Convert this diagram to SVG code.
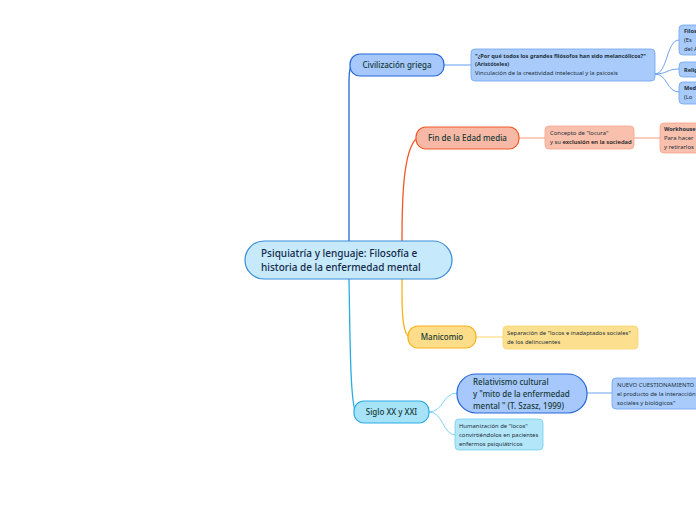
<svg xmlns="http://www.w3.org/2000/svg" width="696" height="520" viewBox="0 0 696 520">
<style>
text{font-family:"Noto Sans","Open Sans","DejaVu Sans",sans-serif;fill:#1c2f3a}
.c{fill:none;stroke-linecap:round}
.main{font-size:10px;font-weight:500;fill:#142a4a}
.lbl{font-size:8px;font-weight:500;fill:#163a35}
.sm{font-size:5.9px}
.b{font-weight:700;font-size:5.6px}
</style>
<rect width="696" height="520" fill="#ffffff"/>
<g id="connectors">
<path class="c" d="M349,241 V80 Q349,66 353,65" stroke="#2566d8" stroke-width="1.3"/>
<path class="c" d="M402,241 C402,200 403,150 417,138" stroke="#f05a28" stroke-width="1.3"/>
<path class="c" d="M402,279 C402,300 401,335 410,337" stroke="#f9b21b" stroke-width="1.3"/>
<path class="c" d="M349,279 C350,330 350,405 356,412" stroke="#2aace3" stroke-width="1.3"/>
<path class="c" d="M444,65 H471" stroke="#5e9cf0" stroke-width="1"/>
<path class="c" d="M655,74 C668,74 666,40 679,40 M655,74 C668,74 666,69 679,69 M655,74 C668,74 666,92 679,92" stroke="#6fa3ef" stroke-width="1"/>
<path class="c" d="M519,138 H545" stroke="#f59a7a" stroke-width="1"/>
<path class="c" d="M634,138 H660" stroke="#f59a7a" stroke-width="1"/>
<path class="c" d="M476,337 H503" stroke="#fbd56b" stroke-width="1"/>
<path class="c" d="M429,412 C444,412 442,393 457,393 M429,412 C444,412 442,435 456,435" stroke="#7fd3f2" stroke-width="1"/>
<path class="c" d="M587,393 H612" stroke="#6fa3ef" stroke-width="1"/>
</g>
<g id="central">
<rect x="245" y="241" width="207" height="38" rx="19" fill="#c6e9fb" stroke="#3a8cd8" stroke-width="1.2"/>
<text class="main" x="261" y="257">Psiquiatría y lenguaje: Filosofía e</text>
<text class="main" x="261" y="271">historia de la enfermedad mental</text>
</g>
<g id="civilizacion">
<rect x="350" y="54" width="94" height="22" rx="10" fill="#a6c8fc" stroke="#2566d8" stroke-width="1.2"/>
<text class="lbl" x="397" y="68" text-anchor="middle">Civilización griega</text>
</g>
<g id="porque">
<rect x="471" y="49" width="184" height="32" rx="4" fill="#a8cbfb" stroke="#6fa3ef" stroke-width="0.8"/>
<text class="sm b" x="475" y="58">"¿Por qué todos los grandes filósofos han sido melancólicos?"</text>
<text class="sm b" x="475" y="65.5">(Aristóteles)</text>
<text class="sm" x="475" y="75" fill="#2a3e5a">Vinculación de la creatividad intelectual y la psicosis</text>
</g>
<g id="filosofia">
<rect x="679" y="25" width="40" height="30" rx="4" fill="#a8cbfb" stroke="#6fa3ef" stroke-width="0.8"/>
<text class="sm b" x="684" y="33">Filos</text>
<text class="sm" x="684" y="42">(Es</text>
<text class="sm" x="684" y="51">del A</text>
</g>
<g id="religion">
<rect x="679" y="62" width="40" height="15" rx="4" fill="#a8cbfb" stroke="#6fa3ef" stroke-width="0.8"/>
<text class="sm b" x="684" y="71.5">Relig</text>
</g>
<g id="medicina">
<rect x="679" y="82" width="40" height="22" rx="4" fill="#a8cbfb" stroke="#6fa3ef" stroke-width="0.8"/>
<text class="sm b" x="684" y="90">Med</text>
<text class="sm" x="684" y="99">(Lo</text>
</g>
<g id="fin">
<rect x="416" y="127" width="103" height="22" rx="10" fill="#f7b9a5" stroke="#f05a28" stroke-width="1.2"/>
<text class="lbl" x="467.5" y="141" text-anchor="middle">Fin de la Edad media</text>
</g>
<g id="concepto">
<rect x="545" y="126" width="89" height="23" rx="4" fill="#f9c0ad" stroke="#f6a58a" stroke-width="0.8"/>
<text class="sm" x="550" y="134.5" fill="#5a3326">Concepto de "locura"</text>
<text class="sm" x="550" y="144" fill="#5a3326">y su <tspan fill="#1a1a1a" font-weight="600">exclusión en la sociedad</tspan></text>
</g>
<g id="workhouses">
<rect x="660" y="123" width="60" height="30" rx="4" fill="#f9c0ad" stroke="#f6a58a" stroke-width="0.8"/>
<text class="sm b" x="664" y="131">Workhouse</text>
<text class="sm" x="664" y="140" fill="#5a3326">Para hacer</text>
<text class="sm" x="664" y="149" fill="#5a3326">y retirarlos</text>
</g>
<g id="manicomio">
<rect x="408" y="326" width="68" height="22" rx="10" fill="#fddc8a" stroke="#f9b21b" stroke-width="1.2"/>
<text class="lbl" x="442" y="340" text-anchor="middle">Manicomio</text>
</g>
<g id="separacion">
<rect x="503" y="326" width="135" height="23" rx="4" fill="#fde08f" stroke="#fbd36a" stroke-width="0.8"/>
<text class="sm" x="507" y="334.5" fill="#4a3a1a">Separación de "locos e inadaptados sociales"</text>
<text class="sm" x="507" y="344" fill="#4a3a1a">de los delincuentes</text>
</g>
<g id="siglo">
<rect x="354" y="401" width="75" height="22" rx="10" fill="#a7e3f8" stroke="#2aace3" stroke-width="1.2"/>
<text class="lbl" x="391.5" y="415" text-anchor="middle">Siglo XX y XXI</text>
</g>
<g id="relativismo">
<rect x="457" y="374" width="130" height="39" rx="19" fill="#a6c8fc" stroke="#2566d8" stroke-width="1.2"/>
<text class="lbl" x="473" y="385">Relativismo cultural</text>
<text class="lbl" x="473" y="397">y "mito de la enfermedad</text>
<text class="lbl" x="473" y="409">mental " (T. Szasz, 1999)</text>
</g>
<g id="nuevo">
<rect x="612" y="378" width="110" height="31" rx="4" fill="#a8cbfb" stroke="#6fa3ef" stroke-width="0.8"/>
<text class="sm" x="617" y="386.5">NUEVO CUESTIONAMIENTO</text>
<text class="sm" x="617" y="395.5">el producto de la interacción</text>
<text class="sm" x="617" y="404.5">sociales y biológicos"</text>
</g>
<g id="humanizacion">
<rect x="455" y="419" width="88" height="31" rx="4" fill="#b4e6f9" stroke="#6fcfee" stroke-width="0.8"/>
<text class="sm" x="459" y="428">Humanización de "locos"</text>
<text class="sm" x="459" y="437">convirtiéndolos en pacientes</text>
<text class="sm" x="459" y="446">enfermos psiquiátricos</text>
</g>
</svg>
